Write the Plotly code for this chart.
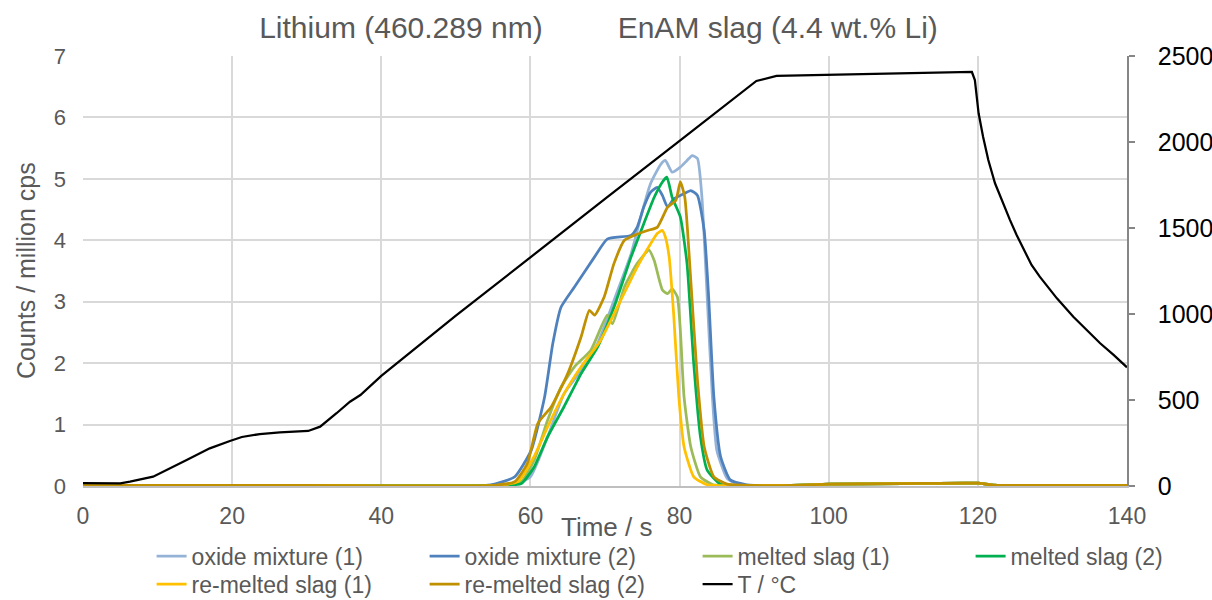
import plotly.graph_objects as go

# ---------------- data ----------------
t_T = [0, 3, 5, 6.3, 9.4, 13.9, 17, 19.7, 21.3, 23.7, 26.4, 30.2, 31.8, 34, 35.8, 37.2, 40, 50, 60, 70, 80,
       90.3, 93, 99.7, 111.3, 119.2, 119.6, 120.1, 120.7, 121.4, 122.3, 123.0, 124.3, 125.2, 126.1, 127.2,
       128.3, 129.5, 130.6, 132.8, 134.6, 136.4, 138.2, 140]
T_C = [17, 15, 15, 25, 54, 151, 219, 262, 285, 302, 312, 320, 345, 423, 490, 529, 640, 990, 1331, 1669, 2007,
       2355, 2384, 2390, 2399, 2407, 2360, 2167, 2031, 1895, 1760, 1682, 1547, 1459, 1382, 1285,
       1217, 1149, 1091, 984, 907, 830, 762, 690]

tail_t = [90, 95, 100, 110, 120, 122, 130, 140]
tail_v = [0.01, 0.01, 0.03, 0.04, 0.045, 0.015, 0.01, 0.01]

ox1_t = [0, 30, 55, 57.9, 60, 62.3, 64.5, 66.8, 69, 71.2, 73.5, 74.8, 76.1, 77.5, 78.1, 79, 80.1, 81, 81.7,
         82.4, 83, 83.7, 84.4, 85, 86.4, 88]
ox1_v = [0.01, 0.01, 0.01, 0.03, 0.15, 0.8, 1.5, 1.88, 2.32, 3.02, 3.78, 4.38, 4.92, 5.24, 5.3, 5.11, 5.19,
         5.3, 5.38, 5.33, 4.7, 3.08, 1.45, 0.58, 0.12, 0.02]

ox2_t = [0, 30, 54, 55.2, 57.9, 60.1, 61.9, 63, 64.1, 65.9, 68.6, 70.3, 73.5, 74.3, 75.2, 76.1, 77, 77.7,
         78.4, 79.2, 80.6, 81.5, 82.4, 83.3, 83.9, 84.6, 85.5, 86.8, 89]
ox2_v = [0.01, 0.01, 0.01, 0.03, 0.15, 0.58, 1.45, 2.32, 2.91, 3.24, 3.73, 4.02, 4.08, 4.21, 4.54, 4.78,
         4.86, 4.73, 4.54, 4.67, 4.76, 4.81, 4.73, 4.16, 3.08, 1.45, 0.48, 0.1, 0.02]

ms1_t = [0, 30, 56, 58.8, 60.5, 62.3, 64.1, 65.9, 68.1, 70.3, 71, 72.6, 74.3, 75.9, 76.6, 77.7, 78.4, 79,
         79.7, 80.1, 80.6, 81.5, 82.8, 84.5]
ms1_v = [0.01, 0.01, 0.01, 0.07, 0.42, 1.07, 1.61, 1.94, 2.21, 2.78, 2.64, 3.24, 3.62, 3.84, 3.67, 3.19,
         3.13, 3.21, 3.08, 2.54, 1.45, 0.64, 0.15, 0.02]

ms2_t = [0, 30, 56.5, 58.8, 60.5, 62.3, 64.5, 66.8, 69, 71.2, 73.5, 75.2, 76.6, 77.7, 78.3, 79, 80.1, 81,
         81.9, 82.8, 83.7, 85.5]
ms2_v = [0.01, 0.01, 0.01, 0.04, 0.31, 0.8, 1.29, 1.83, 2.26, 2.91, 3.73, 4.27, 4.7, 4.95, 5.03, 4.7,
         4.38, 3.62, 1.99, 0.8, 0.26, 0.03]

rm1_t = [0, 30, 55.5, 58.3, 60.5, 62.3, 64.5, 66.8, 69.4, 72.1, 74.3, 76.1, 77, 77.7, 78.1, 78.6, 79.2,
         79.9, 80.6, 81.9, 83.7]
rm1_v = [0.01, 0.01, 0.01, 0.07, 0.48, 0.96, 1.5, 1.94, 2.37, 3.02, 3.56, 3.94, 4.11, 4.16, 4.05, 3.73,
         2.81, 1.45, 0.64, 0.15, 0.02]

rm2_t = [0, 30, 55, 57.9, 59.6, 61, 62.8, 65, 66.8, 67.9, 68.6, 69.9, 71.2, 72.6, 73.9, 75.7, 77, 78.4,
         79.5, 80.1, 80.7, 81.5, 82.4, 83.3, 84.6, 86.4]
rm2_v = [0.01, 0.01, 0.01, 0.07, 0.37, 1.02, 1.29, 1.83, 2.43, 2.86, 2.78, 3.08, 3.62, 4.0, 4.08, 4.16,
         4.21, 4.54, 4.65, 4.95, 4.7, 3.35, 1.72, 0.64, 0.15, 0.03]

series = [
    ("oxide mixture (1)", ox1_t, ox1_v, "#95B3D7", "legend"),
    ("oxide mixture (2)", ox2_t, ox2_v, "#4F81BD", "legend"),
    ("melted slag (1)", ms1_t, ms1_v, "#9BBB59", "legend"),
    ("melted slag (2)", ms2_t, ms2_v, "#00B050", "legend"),
    ("re-melted slag (1)", rm1_t, rm1_v, "#FFC000", "legend2"),
    ("re-melted slag (2)", rm2_t, rm2_v, "#BF9000", "legend2"),
]

FONT = "Liberation Sans, Arial, sans-serif"
GRAY = "#595959"
W, H = 1212, 600
PL, PR, PT, PB = 83, 1127, 56, 486  # plot-area pixel box

fig = go.Figure()
for name, tt, vv, col, lg in series:
    fig.add_trace(go.Scatter(x=tt + tail_t, y=vv + tail_v, name=name, mode="lines", legend=lg,
                             line=dict(color=col, width=2.75, shape="spline", smoothing=0.5)))
fig.add_trace(go.Scatter(x=t_T, y=T_C, name="T / °C", mode="lines", yaxis="y2", legend="legend2",
                         line=dict(color="#000000", width=2.25)))

legend_common = dict(orientation="h", xanchor="left", yanchor="top", entrywidth=228,
                     entrywidthmode="pixels", font=dict(size=23, color=GRAY, family=FONT),
                     itemwidth=30, bgcolor="rgba(0,0,0,0)", traceorder="normal")

fig.update_layout(
    width=W, height=H,
    margin=dict(l=0, r=0, t=0, b=0, autoexpand=False),
    paper_bgcolor="white", plot_bgcolor="white",
    font=dict(family=FONT, size=22, color=GRAY),
    title=dict(text="Lithium (460.289 nm)         EnAM slag (4.4 wt.% Li)",
               xref="container", yref="container",
               x=598.5 / W, xanchor="center", y=1 - 27 / H, yanchor="middle",
               font=dict(size=30, color=GRAY, family=FONT)),
    xaxis=dict(domain=[PL / W, PR / W], range=[0, 140], dtick=20, showgrid=True,
               gridcolor="#D9D9D9", gridwidth=1.5, zeroline=False, showline=True,
               linecolor="#BFBFBF", linewidth=1.5, ticks="",
               tickfont=dict(size=23, color=GRAY), ticklabelstandoff=9),
    yaxis=dict(domain=[1 - PB / H, 1 - PT / H], range=[0, 7], dtick=1, showgrid=True,
               gridcolor="#D9D9D9", gridwidth=1.5, zeroline=False, showline=False, ticks="",
               tickfont=dict(size=22, color=GRAY), ticklabelstandoff=16),
    yaxis2=dict(range=[0, 2500], dtick=500, overlaying="y", side="right", anchor="x",
                showgrid=False, zeroline=False, showline=True, linecolor="#868686",
                linewidth=1.5, ticks="outside", ticklen=6, tickcolor="#868686", tickwidth=1.5,
                tickfont=dict(size=25, color="#000000"), ticklabelstandoff=18),
    legend=dict(x=151.6 / W, y=1 - 534.6 / H, **legend_common),
    legend2=dict(x=151.6 / W, y=1 - 562.6 / H, **legend_common),
    showlegend=True,
    annotations=[
        dict(text="Time / s", xref="paper", yref="paper", x=606 / W, y=1 - 527 / H,
             xanchor="center", yanchor="middle", showarrow=False,
             font=dict(size=26, color=GRAY, family=FONT)),
        dict(text="Counts / million cps", xref="paper", yref="paper", x=26 / W,
             y=1 - 271 / H, xanchor="center", yanchor="middle", textangle=-90,
             showarrow=False, font=dict(size=25, color=GRAY, family=FONT)),
    ],
)

fig.write_html("out.html")
